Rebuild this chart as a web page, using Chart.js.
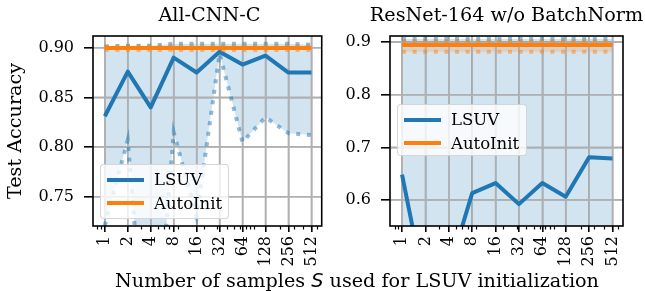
<!DOCTYPE html>
<html>
<head>
<meta charset="utf-8">
<script src="https://cdn.jsdelivr.net/npm/chart.js@4.4.1/dist/chart.umd.min.js"></script>
<style>
  html, body { margin: 0; padding: 0; background: #fff; }
  #fig { position: relative; width: 645px; height: 291px; overflow: hidden; font-family: 'DejaVu Serif', serif; color: #000; }
  .panel { position: absolute; top: 0; }
  .title { position: absolute; top: 4.5px; font-size: 19.2px; line-height: 1; white-space: nowrap; transform: translateX(-50%); }
  #xlabel { position: absolute; left: 357px; top: 270.5px; font-size: 19.2px; line-height: 1; white-space: nowrap; transform: translateX(-50%); }
  #xlabel .math { font-family: 'DejaVu Sans', sans-serif; font-style: italic; }
  .legend { position: absolute; background: rgba(255,255,255,0.8); border: 1px solid rgba(204,204,204,0.8); border-radius: 4px; box-sizing: border-box; padding: 3px 0 0 6px; font-size: 16.5px; }
  .legend .row { display: flex; align-items: center; height: 23.5px; }
  .legend .swatch { width: 37px; height: 4px; margin-right: 10px; }
</style>
</head>
<body>
<div id="fig">
  <canvas class="panel" id="cnn-chart" width="335" height="291" style="left:0"></canvas>
  <canvas class="panel" id="res-chart" width="315" height="291" style="left:330px"></canvas>
  <div class="title" id="cnn-title" style="left:209.5px"></div>
  <div class="title" id="res-title" style="left:506.5px"></div>
  <div id="xlabel">Number of samples <span class="math">S</span> used for LSUV initialization</div>
  <div class="legend" id="cnn-legend" style="left:100px;top:164px;width:129px;height:55px"></div>
  <div class="legend" id="res-legend" style="left:397px;top:104px;width:130px;height:52px"></div>
</div>

<script>
// ---- data ----
const samples = [1, 2, 4, 8, 16, 32, 64, 128, 256, 512];
const xTickLabels = ['1', '2', '4', '8', '16', '32', '64', '128', '256', '512'];
const xMinorTicks = [0.8, 0.9, 3, 5, 6, 7, 9, 20, 30, 40, 50, 60, 70, 80, 90, 200, 300, 400, 500, 600, 700];
const seriesNames = ['LSUV', 'AutoInit'];
const seriesColors = ['#1f77b4', '#ff7f0e'];

// All-CNN-C
const cnnTitle = 'All-CNN-C';
const cnnLsuv     = [0.831, 0.876, 0.840, 0.890, 0.875, 0.896, 0.883, 0.892, 0.875, 0.875];
const cnnLsuvLow  = [0.721, 0.807, 0.520, 0.815, 0.730, 0.894, 0.805, 0.830, 0.814, 0.812];
const cnnLsuvHigh = [0.901, 0.902, 0.902, 0.904, 0.904, 0.904, 0.904, 0.904, 0.904, 0.903];
const cnnAuto     = [0.8998, 0.8998, 0.8998, 0.8998, 0.8998, 0.8998, 0.8998, 0.8998, 0.8998, 0.8998];
const cnnAutoLow  = [0.8978, 0.8978, 0.8978, 0.8978, 0.8978, 0.8978, 0.8978, 0.8978, 0.8978, 0.8978];
const cnnAutoHigh = [0.9015, 0.9015, 0.9015, 0.9015, 0.9015, 0.9015, 0.9015, 0.9015, 0.9015, 0.9015];
const cnnYTicks = [0.75, 0.80, 0.85, 0.90];
const cnnYLabels = ['0.75', '0.80', '0.85', '0.90'];

// ResNet-164 w/o BatchNorm
const resTitle = 'ResNet-164 w/o BatchNorm';
const resLsuv     = [0.648, 0.427, 0.465, 0.613, 0.632, 0.592, 0.632, 0.606, 0.681, 0.679];
const resLsuvLow  = [0.100, 0.100, 0.100, 0.100, 0.100, 0.100, 0.100, 0.100, 0.100, 0.100];
const resLsuvHigh = [0.906, 0.906, 0.906, 0.906, 0.906, 0.906, 0.906, 0.906, 0.906, 0.906];
const resAuto     = [0.8945, 0.8945, 0.8945, 0.8945, 0.8945, 0.8945, 0.8945, 0.8945, 0.8945, 0.8945];
const resAutoLow  = [0.882, 0.882, 0.882, 0.882, 0.882, 0.882, 0.882, 0.882, 0.882, 0.882];
const resAutoHigh = [0.901, 0.901, 0.901, 0.901, 0.901, 0.901, 0.901, 0.901, 0.901, 0.901];
const resYTicks = [0.6, 0.7, 0.8, 0.9];
const resYLabels = ['0.6', '0.7', '0.8', '0.9'];

// ---- helpers ----
const FONT = "'DejaVu Serif', serif";
const GRID_COLOR = '#b0b0b0';

function rgba(hex, a) {
  const n = parseInt(hex.slice(1), 16);
  return `rgba(${(n >> 16) & 255},${(n >> 8) & 255},${n & 255},${a})`;
}

function toPoints(arr) {
  return arr.map((y, i) => ({ x: samples[i], y }));
}

// mean line + dotted min/max with shaded band between them
function bandDatasets(mean, low, high, color, baseOrder) {
  const dotted = { borderColor: rgba(color, 0.5), borderWidth: 4, borderDash: [4, 6.6], borderCapStyle: 'butt' };
  return [
    { ...dotted, data: toPoints(low), fill: false, order: baseOrder + 2 },
    { ...dotted, data: toPoints(high), fill: '-1', backgroundColor: rgba(color, 0.2), order: baseOrder + 1 },
    { data: toPoints(mean), borderColor: color, borderWidth: 4, borderJoinStyle: 'round', fill: false, order: baseOrder },
  ];
}

// grid on top of the shaded bands (like matplotlib), then box + minor ticks
const framePlugin = {
  id: 'frame',
  beforeDatasetsDraw(chart) {
    const { ctx, chartArea: a, scales: { x, y } } = chart;
    ctx.save();
    ctx.strokeStyle = GRID_COLOR;
    ctx.lineWidth = 1.6;
    ctx.beginPath();
    for (const t of x.ticks) {
      const px = x.getPixelForValue(t.value);
      ctx.moveTo(px, a.top);
      ctx.lineTo(px, a.bottom);
    }
    for (const t of y.ticks) {
      const py = y.getPixelForValue(t.value);
      ctx.moveTo(a.left, py);
      ctx.lineTo(a.right, py);
    }
    ctx.stroke();
    ctx.restore();
  },
  afterDraw(chart) {
    const { ctx, chartArea: a, scales: { x } } = chart;
    ctx.save();
    ctx.strokeStyle = '#000';
    ctx.lineWidth = 1.2;
    ctx.beginPath();
    for (const v of xMinorTicks) {
      if (v < x.min || v > x.max) continue;
      const px = Math.round(x.getPixelForValue(v)) + 0.5;
      ctx.moveTo(px, a.bottom);
      ctx.lineTo(px, a.bottom + 3.5);
    }
    ctx.stroke();
    ctx.lineWidth = 1.6;
    ctx.strokeRect(a.left, a.top, a.right - a.left, a.bottom - a.top);
    ctx.restore();
  },
};

function makeChart(canvasId, cfg) {
  const gridOpts = { color: GRID_COLOR, lineWidth: 1.6, tickColor: '#000', tickWidth: 1.6 };
  return new Chart(document.getElementById(canvasId), {
    type: 'line',
    data: {
      datasets: [
        ...bandDatasets(cfg.lsuv, cfg.lsuvLow, cfg.lsuvHigh, seriesColors[0], 4),
        ...bandDatasets(cfg.auto, cfg.autoLow, cfg.autoHigh, seriesColors[1], 1),
      ],
    },
    options: {
      responsive: false,
      animation: false,
      events: [],
      layout: { padding: { left: 0, top: 36, right: cfg.padRight, bottom: 0 } },
      elements: { point: { radius: 0 }, line: { tension: 0 } },
      plugins: {
        legend: { display: false },
        tooltip: { enabled: false },
        filler: { drawTime: 'beforeDatasetsDraw' },
      },
      scales: {
        x: {
          type: 'logarithmic',
          min: Math.pow(2, -0.45),
          max: Math.pow(2, 9.45),
          afterFit: (s) => { s.height = 65; },
          afterBuildTicks: (s) => { s.ticks = samples.map((v) => ({ value: v })); },
          ticks: {
            callback: (v, i) => xTickLabels[i],
            autoSkip: false, minRotation: 90, maxRotation: 90,
            padding: 4, color: '#000', font: { family: FONT, size: 16 },
          },
          grid: { ...gridOpts, tickLength: 6 },
          border: { display: false },
        },
        y: {
          type: 'linear',
          min: cfg.yMin,
          max: cfg.yMax,
          afterFit: (s) => { s.width = cfg.yWidth; },
          afterBuildTicks: (s) => { s.ticks = cfg.yTicks.map((v) => ({ value: v })); },
          ticks: {
            callback: (v, i) => cfg.yLabels[i],
            padding: 10, color: '#000', font: { family: FONT, size: 16 },
          },
          grid: { ...gridOpts, tickLength: 9 },
          border: { display: false },
          title: {
            display: !!cfg.yTitle,
            text: cfg.yTitle || '',
            color: '#000',
            font: { family: FONT, size: 19.2 },
            padding: { top: 4, bottom: 0 },
          },
        },
      },
    },
    plugins: [framePlugin],
  });
}

function renderLegend(elId) {
  document.getElementById(elId).innerHTML = seriesNames.map((name, i) => `
    <div class="row"><span class="swatch" style="background:${seriesColors[i]}"></span><span>${name}</span></div>
  `).join('');
}

document.getElementById('cnn-title').textContent = cnnTitle;
document.getElementById('res-title').textContent = resTitle;

makeChart('cnn-chart', {
  lsuv: cnnLsuv, lsuvLow: cnnLsuvLow, lsuvHigh: cnnLsuvHigh,
  auto: cnnAuto, autoLow: cnnAutoLow, autoHigh: cnnAutoHigh,
  yTicks: cnnYTicks, yLabels: cnnYLabels,
  yMin: 0.7205, yMax: 0.9118, yWidth: 93, padRight: 9,
  yTitle: 'Test Accuracy',
});

makeChart('res-chart', {
  lsuv: resLsuv, lsuvLow: resLsuvLow, lsuvHigh: resLsuvHigh,
  auto: resAuto, autoLow: resAutoLow, autoHigh: resAutoHigh,
  yTicks: resYTicks, yLabels: resYLabels,
  yMin: 0.5504, yMax: 0.9118, yWidth: 60, padRight: 22,
});

renderLegend('cnn-legend');
renderLegend('res-legend');
</script>
</body>
</html>
